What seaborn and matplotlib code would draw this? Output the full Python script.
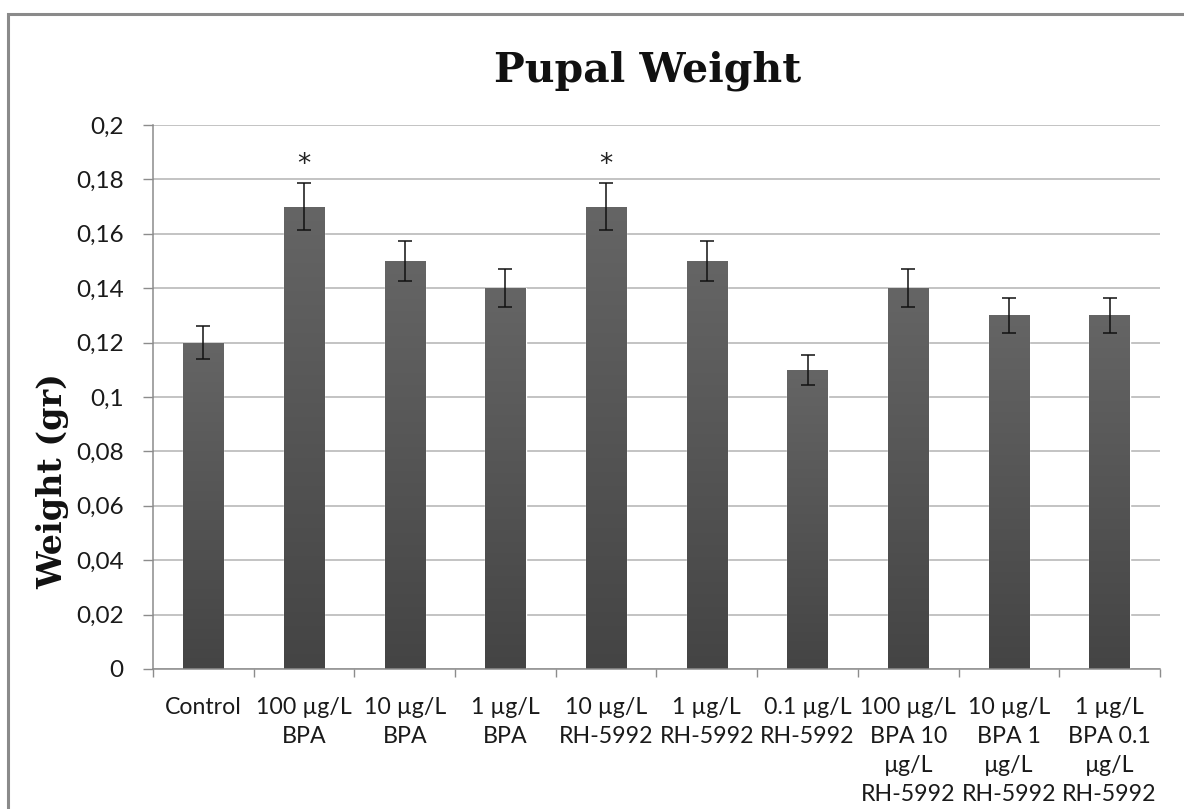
import numpy as np
import pandas as pd
import matplotlib
matplotlib.use("Agg")
import matplotlib.pyplot as plt
import seaborn as sns
from matplotlib.colors import LinearSegmentedColormap
from matplotlib.patches import Rectangle
from matplotlib.ticker import FuncFormatter, FixedLocator

# Mean pupal weight per treatment (gr) with standard errors
categories = [
    "Control",
    "100 µg/L\nBPA",
    "10 µg/L\nBPA",
    "1 µg/L\nBPA",
    "10 µg/L\nRH-5992",
    "1 µg/L\nRH-5992",
    "0.1 µg/L\nRH-5992",
    "100 µg/L\nBPA 10\nµg/L\nRH-5992",
    "10 µg/L\nBPA 1\nµg/L\nRH-5992",
    "1 µg/L\nBPA 0.1\nµg/L\nRH-5992",
]
weights = [0.12, 0.17, 0.15, 0.14, 0.17, 0.15, 0.11, 0.14, 0.13, 0.13]
errors = [0.006, 0.0085, 0.0075, 0.007, 0.0085, 0.0075, 0.0055, 0.007, 0.0065, 0.0065]
significant = [False, True, False, False, True, False, False, False, False, False]
y_ticks = [0, 0.02, 0.04, 0.06, 0.08, 0.1, 0.12, 0.14, 0.16, 0.18, 0.2]

sns.set_style("white")
plt.rcParams["font.family"] = ["Lato", "DejaVu Sans"]

df = pd.DataFrame({"treatment": categories, "weight": weights})

fig = plt.figure(figsize=(11.84, 8.09), dpi=100)
ax = fig.add_axes([0.1292, 0.1731, 0.8505, 0.6724])

sns.barplot(data=df, x="treatment", y="weight", order=categories,
            color="#555555", width=0.4, ax=ax, zorder=2)

# vertical grey gradient inside each bar
grad = np.linspace(0, 1, 256).reshape(-1, 1)
cmap = LinearSegmentedColormap.from_list("bar_shade", ["#444444", "#656565"])
for patch in list(ax.patches):
    x0, y0 = patch.get_x(), patch.get_y()
    w, h = patch.get_width(), patch.get_height()
    im = ax.imshow(grad, extent=[x0, x0 + w, y0, y0 + h], origin="lower",
                   cmap=cmap, aspect="auto", zorder=2.5, interpolation="bilinear")
    im.set_clip_path(patch)

positions = np.arange(len(categories))
ax.errorbar(positions, weights, yerr=errors, fmt="none", ecolor="#111111",
            elinewidth=1.1, capsize=5, capthick=1.1, zorder=3)

for xpos, val, err, sig in zip(positions, weights, errors, significant):
    if sig:
        ax.text(xpos, val + err + 0.0068, "*", ha="center", va="center",
                fontsize=19, color="#222222", family="DejaVu Sans")

ax.set_xlim(-0.5, len(categories) - 0.5)
ax.set_ylim(0, 0.2)
ax.set_axisbelow(True)

ax.yaxis.set_major_locator(FixedLocator(y_ticks))
ax.yaxis.set_major_formatter(FuncFormatter(
    lambda v, _: f"{round(v, 3):g}".replace(".", ",")))
ax.grid(axis="y", color="#b3b3b3", linewidth=1.1)
ax.grid(axis="x", visible=False)

for side in ("top", "right"):
    ax.spines[side].set_visible(False)
for side in ("left", "bottom"):
    ax.spines[side].set_color("#8c8c8c")
    ax.spines[side].set_linewidth(1.1)

ax.tick_params(axis="y", left=True, length=7, width=1.0, color="#8c8c8c",
               labelsize=17.5, labelcolor="#1a1a1a", pad=14)
ax.xaxis.set_minor_locator(FixedLocator(np.arange(-0.5, len(categories), 1.0)))
ax.tick_params(axis="x", which="minor", bottom=True, length=6, width=1.0,
               color="#8c8c8c")
ax.tick_params(axis="x", which="major", bottom=False, length=0, labelsize=16.7,
               labelcolor="#1a1a1a", pad=20)
for lbl in ax.get_xticklabels():
    lbl.set_linespacing(1.47)
    lbl.set_verticalalignment("top")
    lbl.set_multialignment("center")

ax.set_xlabel("")
ax.set_ylabel("Weight (gr)", family="DejaVu Serif", fontweight="bold",
              fontsize=24, color="#111111")
ax.yaxis.set_label_coords(-0.083, 0.345)

fig.text(0.547, 0.913, "Pupal Weight", ha="center", va="center",
         family="DejaVu Serif", fontweight="bold", fontsize=29.5, color="#111111")

# outer chart frame
fig.patches.append(Rectangle((8 / 1184, -0.1), 1.2, 1.1 - 14 / 809,
                             transform=fig.transFigure, fill=False,
                             edgecolor="#8a8a8a", linewidth=2.2))

fig.savefig("out.png", dpi=100, facecolor="white")
